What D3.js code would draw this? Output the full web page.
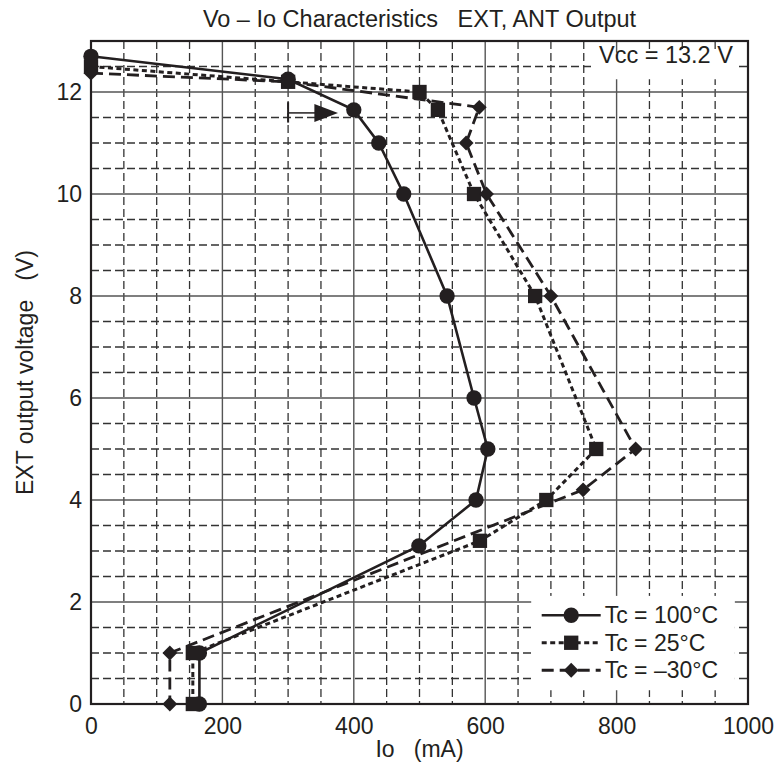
<!DOCTYPE html>
<html>
<head>
<meta charset="utf-8">
<script src="https://cdn.jsdelivr.net/npm/d3@7"></script>
<style>
body { margin: 0; background: #fff; }
text { font-family: "Liberation Sans", Arial, Helvetica, sans-serif; fill: #231f20; }
</style>
</head>
<body>
<svg id="chart" width="777" height="769"></svg>
<script>
// values (Io in mA, Vo in V)
var io100 = [0, 300, 400, 438, 476, 542, 583, 604, 586, 499, 165, 165];
var vo100 = [12.7, 12.25, 11.65, 11, 10, 8, 6, 5, 4, 3.1, 1, 0];
var io25 = [0, 300, 500, 528, 583, 676, 769, 693, 592, 155, 155];
var vo25 = [12.5, 12.2, 12, 11.65, 10, 8, 5, 4, 3.2, 1, 0];
var ioM30 = [0, 300, 591, 571, 602, 700, 829, 749, 120, 120];
var voM30 = [12.37, 12.2, 11.7, 11, 10, 8, 5, 4.2, 1, 0];
var seriesNames = ["Tc = 100\u00b0C", "Tc = 25\u00b0C", "Tc = \u201330\u00b0C"];
var xTicks = [0, 200, 400, 600, 800, 1000];
var yTicks = [0, 2, 4, 6, 8, 10, 12];

var svg = d3.select("#chart");
var margin = {top: 41, right: 29, bottom: 65, left: 91},
    width = +svg.attr("width") - margin.left - margin.right,
    height = +svg.attr("height") - margin.top - margin.bottom;

var x = d3.scaleLinear().domain([0, 1000]).range([0, width]);
var y = d3.scaleLinear().domain([0, 13]).range([height, 0]);

var g = svg.append("g")
    .attr("transform", "translate(" + margin.left + "," + margin.top + ")");

// minor dashed grid every 50 mA / 0.5 V
var minorX = x.ticks(20).filter(function(d) { return d % 200 !== 0; });
var minorY = y.ticks(26).filter(function(d) { return d % 2 !== 0; });

g.selectAll(".vminor").data(minorX).enter().append("line")
    .attr("x1", function(d) { return x(d); }).attr("x2", function(d) { return x(d); })
    .attr("y1", 0).attr("y2", height)
    .style("stroke", "#333").style("stroke-width", 1.3).style("stroke-dasharray", "8,4");

g.selectAll(".hminor").data(minorY).enter().append("line")
    .attr("y1", function(d) { return y(d); }).attr("y2", function(d) { return y(d); })
    .attr("x1", 0).attr("x2", width)
    .style("stroke", "#333").style("stroke-width", 1.3).style("stroke-dasharray", "8,4");

// major solid grid
g.selectAll(".vmajor").data(xTicks).enter().append("line")
    .attr("x1", function(d) { return x(d); }).attr("x2", function(d) { return x(d); })
    .attr("y1", 0).attr("y2", height)
    .style("stroke", "#555").style("stroke-width", 1.4);

g.selectAll(".hmajor").data(y.ticks(13).filter(function(d) { return d % 2 === 0; })).enter().append("line")
    .attr("y1", function(d) { return y(d); }).attr("y2", function(d) { return y(d); })
    .attr("x1", 0).attr("x2", width)
    .style("stroke", "#555").style("stroke-width", 1.4);

// white patches behind Vcc note and legend
g.append("rect")
    .attr("x", x(763)).attr("y", y(12.77))
    .attr("width", x(983) - x(763)).attr("height", y(12.25) - y(12.77))
    .style("fill", "#fff");

g.append("rect")
    .attr("x", x(670)).attr("y", y(2.12))
    .attr("width", x(980) - x(670)).attr("height", y(0.27) - y(2.12))
    .style("fill", "#fff");

// frame
g.append("rect")
    .attr("width", width).attr("height", height)
    .style("fill", "none").style("stroke", "#231f20").style("stroke-width", 2.2);

// axes labels
var xAxis = d3.axisBottom(x).tickValues(xTicks).tickFormat(d3.format("d")).tickSize(0).tickPadding(14);
var yAxis = d3.axisLeft(y).tickValues(yTicks).tickFormat(d3.format("d")).tickSize(0).tickPadding(9);

g.append("g").attr("class", "x axis")
    .attr("transform", "translate(0," + height + ")")
    .call(xAxis);

g.append("g").attr("class", "y axis")
    .call(yAxis);

g.selectAll(".axis path").remove();
g.selectAll(".axis text")
    .style("font-size", "23px")
    .style("fill", "#231f20")
    .style("font-family", "'Liberation Sans', Arial, sans-serif");

// series
var series = [
    {name: seriesNames[0], io: io100, vo: vo100, dash: null, width: 2.6, symbol: d3.symbolCircle, size: 185, rot: 0},
    {name: seriesNames[1], io: io25, vo: vo25, dash: "5,3.5", width: 3, symbol: d3.symbolSquare, size: 205, rot: 0},
    {name: seriesNames[2], io: ioM30, vo: voM30, dash: "12,6", width: 2.8, symbol: d3.symbolSquare, size: 110, rot: 45}
];

var line = d3.line()
    .x(function(d) { return x(d[0]); })
    .y(function(d) { return y(d[1]); });

series.forEach(function(s) {
    var pts = d3.zip(s.io, s.vo);
    g.append("path")
        .datum(pts)
        .attr("d", line)
        .style("fill", "none")
        .style("stroke", "#231f20")
        .style("stroke-width", s.width)
        .style("stroke-dasharray", s.dash);

    g.selectAll(null)
        .data(pts)
        .enter().append("path")
        .attr("d", d3.symbol().type(s.symbol).size(s.size))
        .attr("transform", function(d) { return "translate(" + x(d[0]) + "," + y(d[1]) + ") rotate(" + s.rot + ")"; })
        .style("fill", "#231f20");
});

// direction arrow
g.append("line")
    .attr("x1", x(300)).attr("x2", x(300))
    .attr("y1", y(11.8)).attr("y2", y(11.4))
    .style("stroke", "#231f20").style("stroke-width", 2);
g.append("line")
    .attr("x1", x(300)).attr("x2", x(345))
    .attr("y1", y(11.59)).attr("y2", y(11.59))
    .style("stroke", "#231f20").style("stroke-width", 1.5);
g.append("path")
    .attr("d", "M" + x(340) + "," + (y(11.59) - 9) + "L" + x(376) + "," + y(11.59) + "L" + x(340) + "," + (y(11.59) + 9) + "Z")
    .style("fill", "#231f20");

// Vcc note
g.append("text")
    .attr("x", x(977))
    .attr("y", y(12.57))
    .style("text-anchor", "end")
    .style("font-size", "23.5px")
    .text("Vcc = 13.2 V");

// legend
var legend = g.selectAll(".legend")
    .data(series)
    .enter().append("g")
    .attr("class", "legend")
    .attr("transform", function(d, i) { return "translate(" + (x(686)) + "," + (y(1.74) + i * 27.5) + ")"; });

legend.append("line")
    .attr("x1", 0).attr("x2", 59)
    .style("stroke", "#231f20")
    .style("stroke-width", function(d) { return d.width; })
    .style("stroke-dasharray", function(d) { return d.dash; });

legend.append("path")
    .attr("d", function(d) { return d3.symbol().type(d.symbol).size(d.size)(); })
    .attr("transform", function(d) { return "translate(29.5,0) rotate(" + d.rot + ")"; })
    .style("fill", "#231f20");

legend.append("text")
    .attr("x", 63)
    .attr("dy", "0.35em")
    .style("font-size", "23px")
    .text(function(d) { return d.name; });

// titles
svg.append("text")
    .attr("x", margin.left + width / 2)
    .attr("y", 27)
    .style("text-anchor", "middle")
    .style("font-size", "23.5px")
    .text("Vo \u2013 Io Characteristics\u00a0\u00a0\u00a0EXT, ANT Output");

svg.append("text")
    .attr("x", margin.left + width / 2)
    .attr("y", 757)
    .style("text-anchor", "middle")
    .style("font-size", "23px")
    .text("Io\u00a0\u00a0\u00a0(mA)");

svg.append("text")
    .attr("transform", "translate(33," + (margin.top + height / 2) + ") rotate(-90)")
    .style("text-anchor", "middle")
    .style("font-size", "23px")
    .text("EXT output voltage\u00a0\u00a0\u00a0(V)");
</script>
</body>
</html>
